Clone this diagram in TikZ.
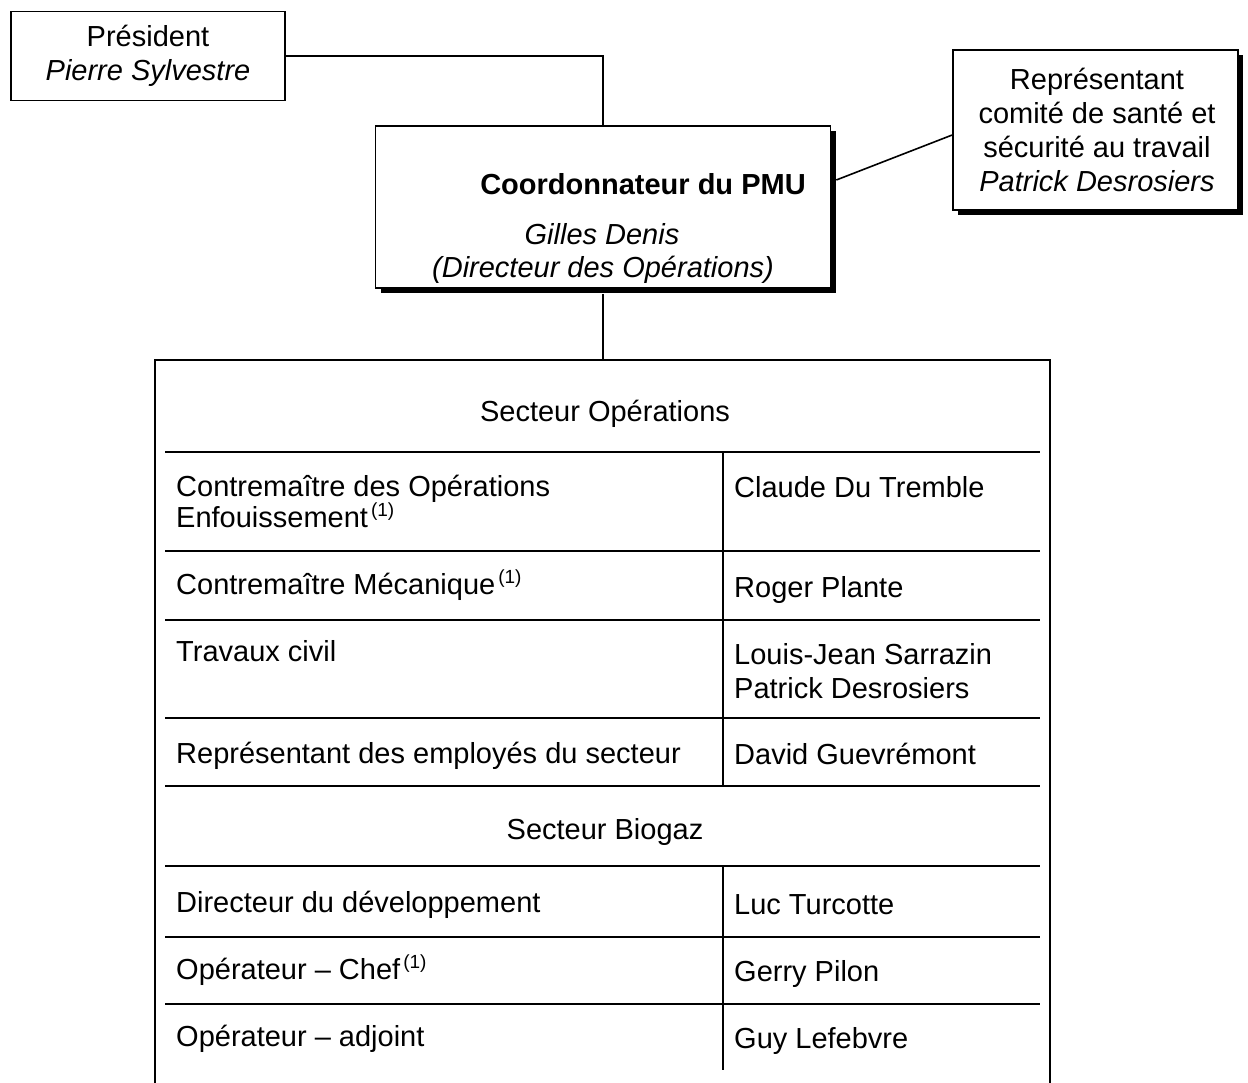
\documentclass[tikz,border=0pt]{standalone}
\usepackage{fontspec}
\setmainfont{Liberation Sans}
\usetikzlibrary{shadows}
\newcommand{\supone}{\kern3pt\raisebox{11pt}{\fontsize{19}{19}\selectfont (1)}}
\begin{document}
\begin{tikzpicture}[x=1pt,y=-1pt,
  txt/.style={font=\fontsize{29}{34}\selectfont, inner sep=0pt},
  lt/.style={txt, anchor=base west},
  ct/.style={txt, anchor=base},
  boxs/.style={draw, line width=1.6pt, inner sep=0pt, fill=white},
  shad/.style={boxs, drop shadow={shadow xshift=5pt, shadow yshift=-5pt, fill=black, opacity=1}},
  ln/.style={line width=1.6pt}]
\path[use as bounding box, fill=white] (0,0) rectangle (1248,1083);

% top boxes
\node[boxs, minimum width=274pt, minimum height=89pt] (pres) at (148,56) {};
\node[txt, align=center] (prest) at (148,56) {Président\\\textit{Pierre Sylvestre}};

\node[shad, minimum width=455pt, minimum height=162pt] (coord) at (603,207) {};
\node[txt, font=\fontsize{29}{34}\selectfont\bfseries, anchor=base] (coordt) at (643,195) {Coordonnateur du PMU};
\node[txt, font=\fontsize{29}{34}\selectfont\itshape, anchor=base] (gd) at (602,245) {Gilles Denis};
\node[txt, font=\fontsize{29}{34}\selectfont\itshape, anchor=base] (dir) at (603,278) {(Directeur des Opérations)};

\node[shad, minimum width=285pt, minimum height=160pt] (rep) at (1095.5,130) {};
\node[txt, align=center] (rept) at (1097,130) {Représentant\\comité de santé et\\sécurité au travail\\\textit{Patrick Desrosiers}};

% connectors
\coordinate (ttop) at (603,360);
\draw[ln] (pres.east) -| (coord.north);
\draw[ln] ([xshift=5pt,yshift=27pt]coord.east) -- ([yshift=-5pt]rep.west);
\draw[ln] ([yshift=-5pt]coord.south) -- (coord.south |- ttop);

% table frame
\draw[ln] (155,1083) -- (155,360) -- (1050,360) -- (1050,1083);
\foreach \yy in {452,551,620,718,786,866,937,1004} \draw[ln] (165,\yy) -- (1040,\yy);
\draw[ln] (723,452) -- (723,786);
\draw[ln] (723,866) -- (723,1070);

% table text
\node[ct] (sop) at (605,421) {Secteur Opérations};
\node[lt] (c1a) at (176,496) {Contremaître des Opérations};
\node[lt] (c1b) at (176,527) {Enfouissement\supone};
\node[lt] (n1) at (734,497) {Claude Du Tremble};
\node[lt] (c2) at (176,594) {Contremaître Mécanique\supone};
\node[lt] (n2) at (734,597) {Roger Plante};
\node[lt] (c3) at (176,661) {Travaux civil};
\node[lt] (n3a) at (734,664) {Louis-Jean Sarrazin};
\node[lt] (n3b) at (734,698) {Patrick Desrosiers};
\node[lt] (c4) at (176,763) {Représentant des employés du secteur};
\node[lt] (n4) at (734,764) {David Guevrémont};
\node[ct] (sbio) at (605,839) {Secteur Biogaz};
\node[lt] (d1) at (176,912) {Directeur du développement};
\node[lt] (m1) at (734,914) {Luc Turcotte};
\node[lt] (d2) at (176,979) {Opérateur – Chef\supone};
\node[lt] (m2) at (734,981) {Gerry Pilon};
\node[lt] (d3) at (176,1046) {Opérateur – adjoint};
\node[lt] (m3) at (734,1048) {Guy Lefebvre};
\end{tikzpicture}
\end{document}
